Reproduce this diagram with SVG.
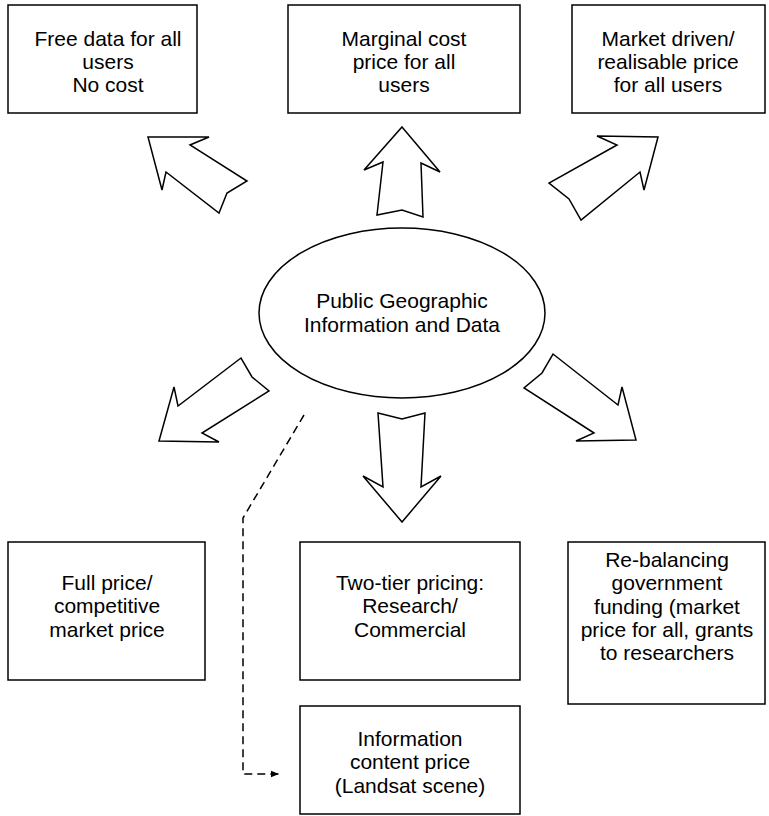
<svg xmlns="http://www.w3.org/2000/svg" width="769" height="816" viewBox="0 0 769 816">
  <style>
    .box { fill: #ffffff; stroke: #000000; stroke-width: 1.5; }
    .arrow { fill: #ffffff; stroke: #000000; stroke-width: 1.5; stroke-linejoin: miter; }
    .label { font-family: "Liberation Sans", Arial, sans-serif; font-size: 21px; fill: #000000; text-anchor: middle; }
    .dash { fill: none; stroke: #000000; stroke-width: 1.5; stroke-dasharray: 8 5; }
  </style>
  <defs>
    <marker id="head" viewBox="0 0 10 10" refX="10" refY="5" markerWidth="14" markerHeight="8" markerUnits="userSpaceOnUse" orient="auto">
      <path d="M0,1 L10,5 L0,9 Z" fill="#000000"/>
    </marker>
  </defs>
  <rect width="769" height="816" fill="#ffffff"/>

  <!-- top row -->
  <g id="free-data">
    <rect class="box" x="8" y="5" width="189" height="108"/>
    <text class="label" x="108" y="46">Free data for all</text>
    <text class="label" x="108" y="69">users</text>
    <text class="label" x="108" y="92">No cost</text>
  </g>
  <g id="marginal-cost">
    <rect class="box" x="288" y="5" width="232" height="108"/>
    <text class="label" x="404" y="46">Marginal cost</text>
    <text class="label" x="404" y="69">price for all</text>
    <text class="label" x="404" y="92">users</text>
  </g>
  <g id="market-driven">
    <rect class="box" x="572" y="5" width="193" height="108"/>
    <text class="label" x="668" y="46">Market driven/</text>
    <text class="label" x="668" y="69">realisable price</text>
    <text class="label" x="668" y="92">for all users</text>
  </g>

  <!-- centre -->
  <g id="public-data">
    <ellipse class="box" cx="402" cy="313" rx="143" ry="85"/>
    <text class="label" x="402" y="308">Public Geographic</text>
    <text class="label" x="402" y="332">Information and Data</text>
  </g>

  <!-- bottom row -->
  <g id="full-price">
    <rect class="box" x="8" y="542" width="197" height="138"/>
    <text class="label" x="107" y="590">Full price/</text>
    <text class="label" x="107" y="613">competitive</text>
    <text class="label" x="107" y="637">market price</text>
  </g>
  <g id="two-tier">
    <rect class="box" x="300" y="542" width="220" height="138"/>
    <text class="label" x="410" y="590">Two-tier pricing:</text>
    <text class="label" x="410" y="613">Research/</text>
    <text class="label" x="410" y="637">Commercial</text>
  </g>
  <g id="re-balancing">
    <rect class="box" x="568" y="542" width="197" height="162"/>
    <text class="label" x="667" y="567">Re-balancing</text>
    <text class="label" x="667" y="590">government</text>
    <text class="label" x="667" y="614">funding (market</text>
    <text class="label" x="667" y="637">price for all, grants</text>
    <text class="label" x="667" y="660">to researchers</text>
  </g>
  <g id="information-content">
    <rect class="box" x="300" y="706" width="220" height="108"/>
    <text class="label" x="410" y="746">Information</text>
    <text class="label" x="410" y="769">content price</text>
    <text class="label" x="410" y="793">(Landsat scene)</text>
  </g>

  <!-- connectors: block arrows and the dashed link -->
  <g id="connectors">
    <polygon class="arrow" points="148,137 209,137 190,145 247,181 227,193 219,213 166,172 162,190"/>
    <polygon class="arrow" points="402,127 440,172 421,163 423,217 402,210 377,215 383,162 364,170"/>
    <polygon class="arrow" points="658,137 644,190 640,172 581,220 569,199 549,183 617,145 597,136"/>
    <polygon class="arrow" points="159,441 174,387 178,406 241,358 252,377 269,391 202,433 219,442"/>
    <polygon class="arrow" points="402,522 363,476 383,487 378,413 402,419 425,413 421,487 441,476"/>
    <polygon class="arrow" points="636,440 576,441 594,433 524,388 542,373 553,354 618,405 622,387"/>
    <polyline class="dash" points="304,415 243,518 243,774 279,774" marker-end="url(#head)"/>
  </g>
</svg>
